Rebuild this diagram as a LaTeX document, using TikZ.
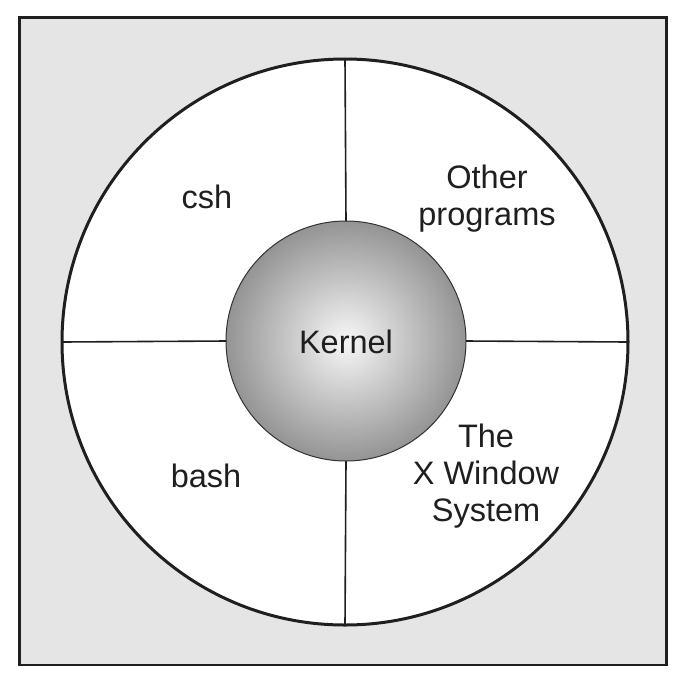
\documentclass[tikz,border=0pt]{standalone}
\usepackage{fontspec}
\setmainfont{Liberation Sans}
\begin{document}
\begin{tikzpicture}[x=1pt,y=-1pt,
  frame/.style={draw=black!88,line width=2.5pt,fill=black!10},
  outer/.style={circle,draw=black!88,line width=3pt,fill=white,minimum size=566pt,inner sep=0pt,outer sep=0pt},
  kern/.style={circle,draw=black!80,line width=1pt,inner sep=0pt,outer sep=0pt,minimum size=240pt,
    shading=radial,inner color=white!97!black,outer color=black!42},
  divider/.style={draw=black!88,line width=1.6pt},
  lab/.style={font=\fontsize{32.5}{37}\selectfont,text=black!88,align=center,anchor=base,inner sep=0pt}]
\useasboundingbox (0,0) rectangle (683,681);
\path[frame] (19.5,17.5) rectangle (666.5,665);
\node[outer] (ring) at (345,342) {};
\node[kern] (core) at (346,341) {};
\draw[divider] (ring.north) -- (core.north);
\draw[divider] (ring.south) -- (core.south);
\draw[divider] (ring.west) -- (core.west);
\draw[divider] (ring.east) -- (core.east);
\node[lab] (kl) at (346,353) {Kernel};
\node[lab] (csh) at (207,208) {csh};
\node[lab] (other) at (487,225) {Other\\programs};
\node[lab] (bash) at (206,487) {bash};
\node[lab] (xw) at (486,521) {The\\X Window\\System};
\end{tikzpicture}
\end{document}
